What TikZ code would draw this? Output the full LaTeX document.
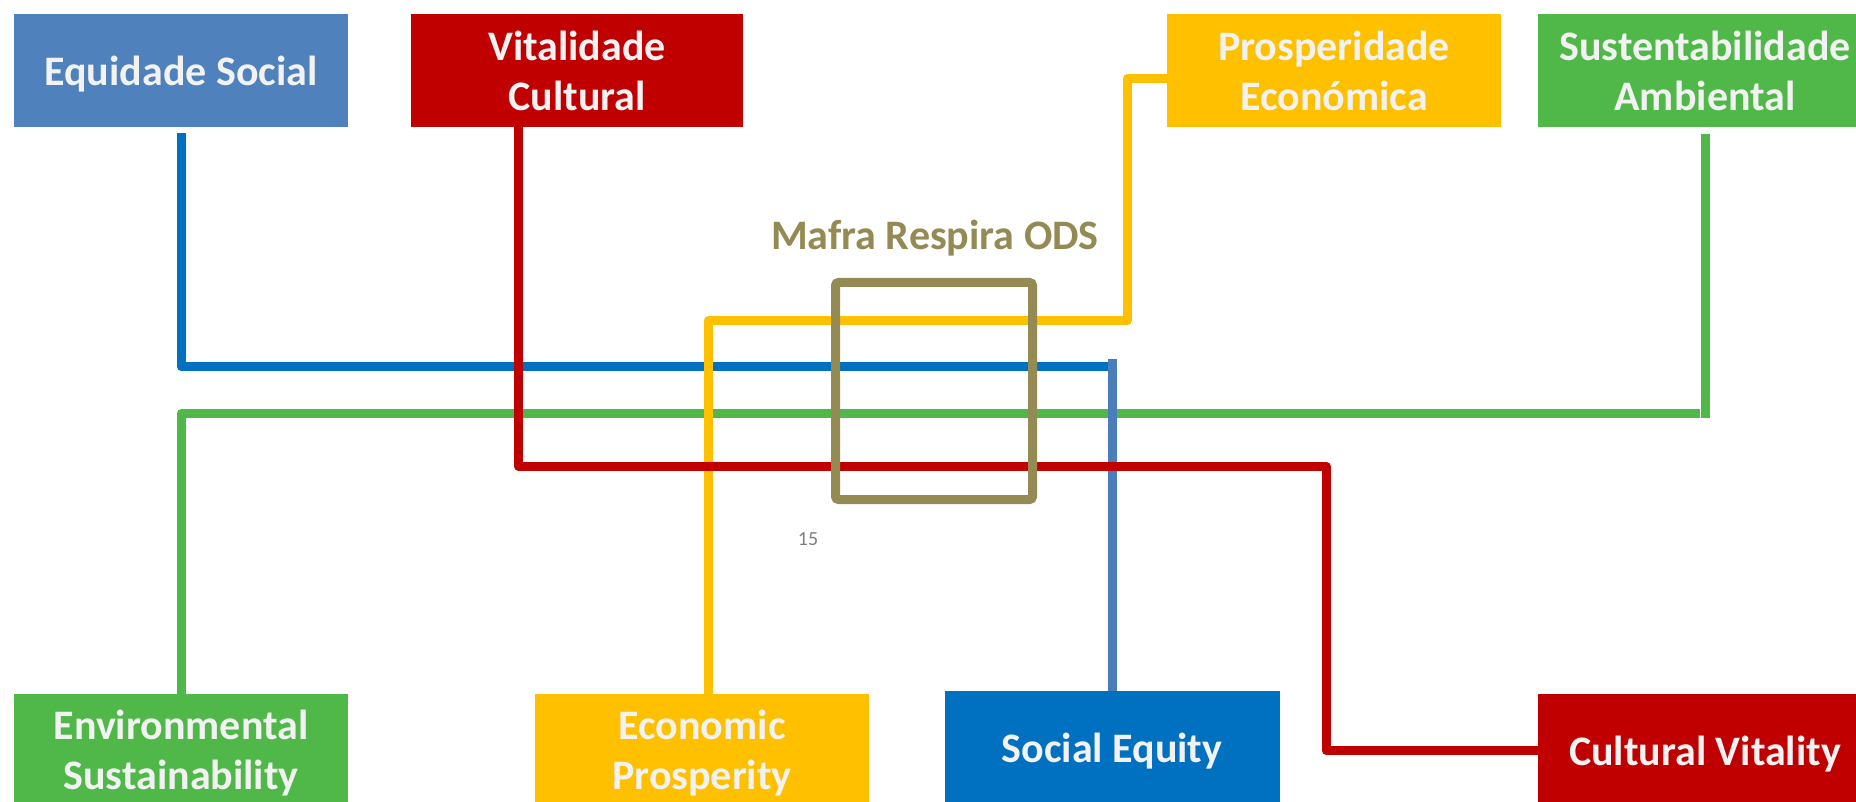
\documentclass[tikz,border=0pt]{standalone}
\usepackage{fontspec}
\setmainfont{Carlito}
\definecolor{eqblue}{HTML}{4F81BD}
\definecolor{darkred}{HTML}{C00000}
\definecolor{gold}{HTML}{FFC000}
\definecolor{leafgreen}{HTML}{50B848}
\definecolor{socblue}{HTML}{0070C0}
\definecolor{steelline}{HTML}{4A7EBB}
\definecolor{olive}{HTML}{948A54}
\definecolor{boxtext}{HTML}{F2F2F2}
\definecolor{numgray}{HTML}{7F7F7F}

\begin{document}
\begin{tikzpicture}[x=1pt, y=-1pt,
  box/.style={rectangle, inner sep=0pt, minimum width=334pt, minimum height=113pt, text=boxtext, align=center, font=\bfseries\fontsize{42}{50}\selectfont},
  link/.style={line width=9pt, line join=round}]
\useasboundingbox (0,0) rectangle (1856,802);
\clip (0,0) rectangle (1856,802);

\node (eqsoc) at (181,70.5) [box, fill=eqblue, text depth=0pt] {Equidade Social};
\node (vitcul) at (577,70.5) [box, fill=darkred, minimum width=332pt] {Vitalidade\\Cultural};
\node (prosec) at (1334,70.5) [box, fill=gold] {Prosperidade\\Económica};
\node (sustamb) at (1705,70.5) [box, fill=leafgreen] {Sustentabilidade\\Ambiental};
\node (envsus) at (181,753.5) [box, fill=leafgreen, minimum height=119pt] {Environmental\\Sustainability};
\node (ecopro) at (702,753.5) [box, fill=gold, minimum height=119pt] {Economic\\Prosperity};
\node (socequ) at (1112,747.5) [box, fill=socblue, minimum width=335pt, text depth=0pt] {Social Equity};
\node (cultvit) at (1705,750.5) [box, fill=darkred, text depth=0pt] {Cultural Vitality};

\coordinate (blueend) at (1108,367);
\coordinate (greenend) at (1705,418);
\coordinate (greenstart) at (1700,413);
\coordinate (goldturn) at (1127,321);
\coordinate (steeltop) at (1112,359);
\coordinate (redturn) at (1326,466);

\draw[link, color=socblue] ([yshift=-6pt]eqsoc.south) |- (blueend);
\draw[link, color=leafgreen] ([yshift=-7pt]sustamb.south) -- (greenend);
\draw[link, color=leafgreen] (greenstart) -| (envsus.north);
\draw[link, color=gold] ([yshift=-8.5pt]prosec.west) -| (goldturn) -| ([xshift=6pt]ecopro.north);
\draw[link, color=steelline] (steeltop) -- (socequ.north);
\draw[link, color=darkred] ([xshift=-59pt]vitcul.south) |- (redturn) |- (cultvit.west);

\node (mafra) at (934,391) [draw=olive, line width=9pt, rounded corners=3pt, minimum width=197pt, minimum height=217pt, inner sep=0pt] {};
\node (title) at (935,250) [anchor=base, text=olive, font=\bfseries\fontsize{42}{50}\selectfont] {Mafra Respira ODS};
\node (pagenum) at (808,545) [anchor=base, text=numgray, font=\fontsize{20}{24}\selectfont] {15};
\end{tikzpicture}
\end{document}
